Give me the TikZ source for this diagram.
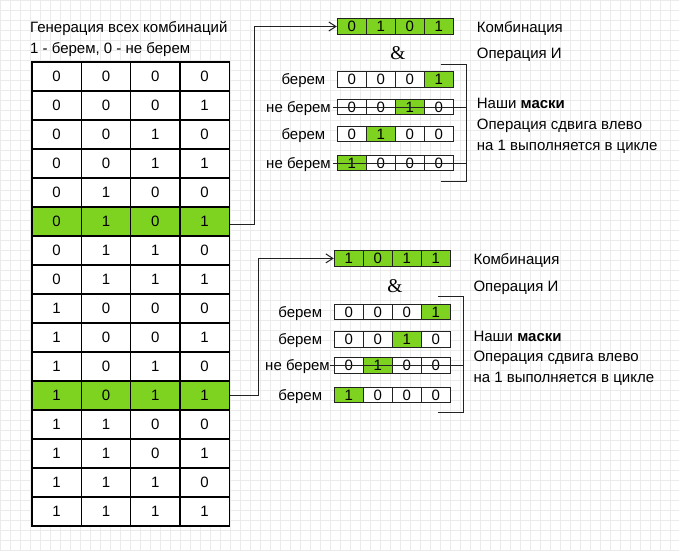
\documentclass[tikz,border=0pt]{standalone}
\usepackage{fontspec}
\setmainfont{Liberation Sans}
\newfontfamily\ampfont{Liberation Serif}
\usetikzlibrary{arrows.meta}
\definecolor{gr}{HTML}{7ED321}
\definecolor{gridc}{HTML}{EBEBEB}
\definecolor{ink}{HTML}{222222}
\newcommand\maskrow[4]{%
  \foreach \dg/\fl [count=\ci] in {#4}{%
    \node[mcell, fill=\fl] (#1-\ci) at ({#2+(\ci-0.5)*29},#3) {\dg};
  }}
\begin{document}
\begin{tikzpicture}[x=1pt,y=-1pt,
  every node/.style={font=\fontsize{15}{18}\selectfont, text=black},
  txt/.style={inner sep=0pt, text height=10.7pt, text depth=0pt},
  tcell/.style={draw=black, line width=1.2pt, minimum width=49.33pt, minimum height=29pt, inner sep=0pt, text height=10.7pt, text depth=0pt},
  mcell/.style={draw=ink, line width=1.1pt, minimum width=29pt, minimum height=15.5pt, inner sep=0pt, text height=10.7pt, text depth=0pt},
  conn/.style={draw=ink, line width=1pt, -{Straight Barb[length=7pt,width=9pt]}},
  thinline/.style={draw=ink, line width=1pt},
  gridline/.style={draw=gridc, line width=0.8pt},
  amp/.style={font=\ampfont\fontsize{19.5}{20}\selectfont, inner sep=0pt}]
\fill[white] (0,0) rectangle (679,551);
\useasboundingbox (0,0) rectangle (679,551);
\foreach \k in {0,10,...,670} \draw[gridline] (\k,0) -- (\k,551);
\foreach \k in {0,10,...,550} \draw[gridline] (0,\k) -- (679,\k);

% table
\foreach \r in {1,...,16}{
  \foreach \c in {1,...,4}{
    \pgfmathtruncatemacro\bit{mod(floor((\r-1)/(2^(4-\c))),2)}
    \ifnum\r=6 \def\fc{gr}\else\ifnum\r=12 \def\fc{gr}\else\def\fc{white}\fi\fi
    \node[tcell, fill=\fc] (t-\r-\c) at ({32+(\c-0.5)*49.33},{62+(\r-0.5)*29}) {\bit};
  }}
\node[txt, anchor=west] (title1) at (30,26.7) {Генерация всех комбинаций};
\node[txt, anchor=west] (title2) at (30,48.3) {1 - берем, 0 - не берем};

% top group
\maskrow{A}{337.3}{26.5}{0/gr,1/gr,0/gr,1/gr}
\node[amp] (ampA) at (398,53) {\&};
\maskrow{Am1}{337.3}{79.5}{0/white,0/white,0/white,1/gr}
\maskrow{Am2}{337.3}{107}{0/white,0/white,1/gr,0/white}
\maskrow{Am3}{337.3}{134}{0/white,1/gr,0/white,0/white}
\maskrow{Am4}{337.3}{163}{1/gr,0/white,0/white,0/white}
\node[txt, anchor=east] (Al1) at (325.5,79.5) {берем};
\node[txt, anchor=east] (Al2) at (331,107) {не берем};
\node[txt, anchor=east] (Al3) at (325.5,134) {берем};
\node[txt, anchor=east] (Al4) at (331,163) {не берем};
\coordinate (Ab1) at (440.7,64.3);
\coordinate (Ab2) at (466,64.3);
\coordinate (Ab3) at (466,181.7);
\coordinate (Ab4) at (440.7,181.7);
\draw[thinline] (Ab1) -- (Ab2) -- (Ab3) -- (Ab4);
\draw[thinline] ([xshift=-3.5pt]Am2-1.west) -- (Am2-1.west -| Ab2);
\draw[thinline] ([xshift=-3.5pt]Am4-1.west) -- (Am4-1.west -| Ab2);
\node[txt, anchor=west] (Ak) at (476.7,26.7) {Комбинация};
\node[txt, anchor=west] (Ao) at (476.7,53.3) {Операция И};
\node[txt, anchor=west] (An1) at (476.7,103.3) {Наши \textbf{маски}};
\node[txt, anchor=west] (An2) at (476.7,124.3) {Операция сдвига влево};
\node[txt, anchor=west] (An3) at (476.7,145) {на 1 выполняется в цикле};
\draw[conn] ([yshift=-2.5pt]t-6-4.east) -- ++(25,0) |- (A-1.west);

% bottom group
\maskrow{B}{334.3}{258.4}{1/gr,0/gr,1/gr,1/gr}
\node[amp] (ampB) at (395,286) {\&};
\maskrow{Bm1}{334.3}{311.8}{0/white,0/white,0/white,1/gr}
\maskrow{Bm2}{334.3}{339.5}{0/white,0/white,1/gr,0/white}
\maskrow{Bm3}{334.3}{365.5}{0/white,1/gr,0/white,0/white}
\maskrow{Bm4}{334.3}{394.8}{1/gr,0/white,0/white,0/white}
\node[txt, anchor=east] (Bl1) at (322.3,311.8) {берем};
\node[txt, anchor=east] (Bl2) at (322.3,339.5) {берем};
\node[txt, anchor=east] (Bl3) at (330,365.5) {не берем};
\node[txt, anchor=east] (Bl4) at (322.3,394.8) {берем};
\coordinate (Bb1) at (438,296.7);
\coordinate (Bb2) at (463,296.7);
\coordinate (Bb3) at (463,412.7);
\coordinate (Bb4) at (438,412.7);
\draw[thinline] (Bb1) -- (Bb2) -- (Bb3) -- (Bb4);
\draw[thinline] ([xshift=-3.5pt]Bm3-1.west) -- (Bm3-1.west -| Bb2);
\node[txt, anchor=west] (Bk) at (473.3,259) {Комбинация};
\node[txt, anchor=west] (Bo) at (473.3,286) {Операция И};
\node[txt, anchor=west] (Bn1) at (473.3,335.7) {Наши \textbf{маски}};
\node[txt, anchor=west] (Bn2) at (473.3,356) {Операция сдвига влево};
\node[txt, anchor=west] (Bn3) at (473.3,376.7) {на 1 выполняется в цикле};
\draw[conn] (t-12-4.east) -- ++(29,0) |- (B-1.west);
\end{tikzpicture}
\end{document}
